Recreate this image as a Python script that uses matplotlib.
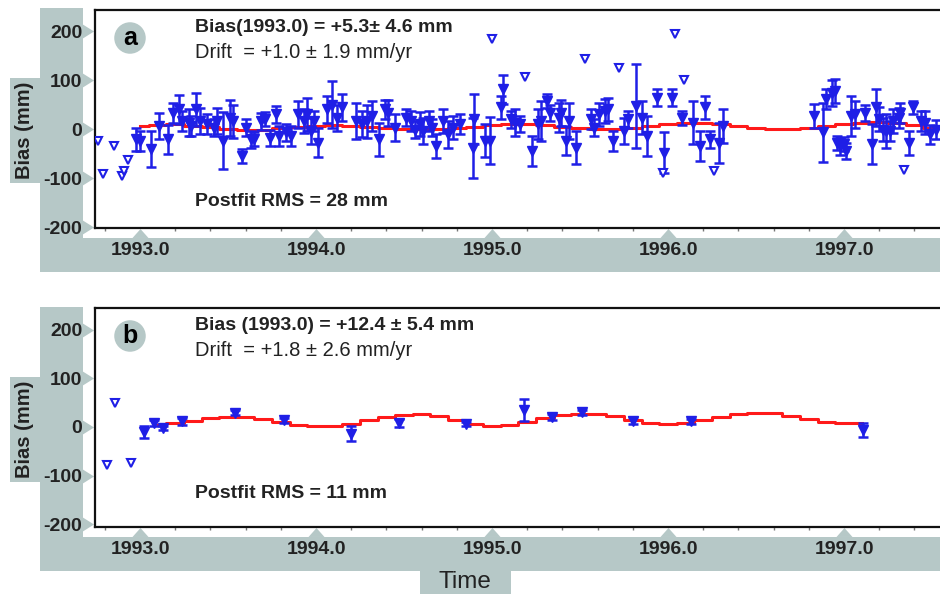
import matplotlib
matplotlib.use("Agg")
import numpy as np
import matplotlib.pyplot as plt
from matplotlib.patches import Rectangle
from matplotlib import transforms

plt.rcParams['font.family'] = ['Liberation Sans', 'DejaVu Sans']

# ---- data, panel a ----
a_year = [1992.98, 1993.00, 1993.06, 1993.11, 1993.16, 1993.19, 1993.22, 1993.24, 1993.28, 1993.29,
          1993.32, 1993.34, 1993.38, 1993.42, 1993.44, 1993.47, 1993.51, 1993.53, 1993.58, 1993.60,
          1993.63, 1993.65, 1993.69, 1993.71, 1993.74, 1993.77, 1993.79, 1993.83, 1993.86, 1993.90,
          1993.93, 1993.95, 1993.97, 1993.99, 1994.01, 1994.06, 1994.09, 1994.12, 1994.15, 1994.23,
          1994.26, 1994.29, 1994.32, 1994.36, 1994.39, 1994.41, 1994.45, 1994.51, 1994.54, 1994.56,
          1994.59, 1994.61, 1994.64, 1994.66, 1994.68, 1994.72, 1994.75, 1994.78, 1994.82, 1994.89,
          1994.90, 1994.96, 1994.99, 1995.05, 1995.06, 1995.11, 1995.13, 1995.16, 1995.23, 1995.26,
          1995.28, 1995.31, 1995.33, 1995.38, 1995.39, 1995.42, 1995.44, 1995.48, 1995.56, 1995.58,
          1995.61, 1995.64, 1995.66, 1995.69, 1995.75, 1995.77, 1995.82, 1995.85, 1995.88, 1995.94,
          1995.98, 1996.02, 1996.08, 1996.14, 1996.18, 1996.21, 1996.24, 1996.29, 1996.31, 1996.83,
          1996.88, 1996.90, 1996.93, 1996.95, 1996.96, 1996.98, 1997.00, 1997.01, 1997.04, 1997.06,
          1997.12, 1997.16, 1997.18, 1997.20, 1997.22, 1997.24, 1997.26, 1997.28, 1997.31, 1997.32,
          1997.37, 1997.39, 1997.44, 1997.46, 1997.49, 1997.52]
a_bias = [-21, -24, -40, 6, -21, 33, 40, 16, 13, 6,
          40, 16, 10, 3, 16, -24, 23, 16, -55, 3,
          -21, -21, 16, 20, -18, 30, -14, -7, -14, 30,
          16, 30, -4, 16, -28, 40, 50, 23, 44, 16,
          10, 16, 27, -21, 40, 33, 3, 23, 16, -1,
          10, -4, 16, 3, -35, 16, -11, 3, 10, -38,
          20, -24, -24, 44, 81, 20, 13, 10, -45, 10,
          16, 57, 33, 23, 33, -24, 16, -38, 20, 3,
          30, 37, 40, -24, -4, 20, 47, 23, -14, 64,
          -48, 64, 23, 13, -35, 44, -21, -28, 6, 27,
          -7, 61, 74, 78, -28, -35, -31, -45, 27, 30,
          33, -31, 44, 20, -1, -4, -4, 16, 23, 33,
          -28, 44, 16, 13, -11, -1]
a_err = [24, 20, 37, 27, 30, 20, 30, 20, 27, 20,
         34, 27, 20, 17, 27, 58, 37, 34, 14, 17,
         17, 14, 17, 14, 17, 17, 20, 17, 20, 27,
         24, 34, 27, 20, 30, 27, 48, 27, 27, 37,
         27, 34, 30, 34, 20, 27, 27, 17, 20, 17,
         24, 27, 20, 17, 24, 24, 27, 24, 20, 61,
         51, 34, 48, 24, 30, 17, 27, 17, 30, 30,
         41, 14, 17, 30, 27, 30, 37, 34, 20, 17,
         24, 24, 24, 20, 27, 17, 85, 34, 41, 17,
         41, 17, 14, 44, 30, 24, 17, 41, 34, 24,
         61, 20, 27, 24, 14, 17, 14, 17, 41, 27,
         17, 41, 37, 24, 24, 34, 20, 24, 20, 20,
         24, 14, 20, 24, 20, 20]
a_out_year = [1992.76, 1992.79, 1992.85, 1992.90, 1992.91, 1992.93, 1995.00, 1995.19,
              1995.53, 1995.72, 1995.97, 1996.04, 1996.09, 1996.26, 1997.34]
a_out_bias = [-24, -92, -35, -96, -86, -63, 183, 106, 142, 124, -90, 195, 100, -86, -84]
a_fit_year = [1993.0, 1993.1, 1993.2, 1993.3, 1993.4, 1993.5, 1993.6, 1993.7, 1993.8, 1993.9,
              1994.0, 1994.1, 1994.2, 1994.3, 1994.4, 1994.5, 1994.6, 1994.7, 1994.8, 1994.9,
              1995.0, 1995.1, 1995.2, 1995.3, 1995.4, 1995.5, 1995.6, 1995.7, 1995.8, 1995.9,
              1996.0, 1996.1, 1996.2, 1996.3, 1996.4, 1996.5, 1996.6, 1996.7, 1996.8, 1996.9,
              1997.0, 1997.1, 1997.2, 1997.3, 1997.4, 1997.5]
a_fit = [6, 9, 10, 7, 4, 0, -2, -1, 2, 5,
         7, 8, 7, 5, 3, 1, 0, 0, 2, 5,
         9, 11, 10, 8, 5, 3, 1, 1, 3, 7,
         11, 13, 13, 10, 6, 3, 1, 0, 2, 6,
         10, 13, 14, 12, 8, 3]

# ---- data, panel b ----
b_year = [1993.02, 1993.08, 1993.13, 1993.24, 1993.54, 1993.82, 1994.20, 1994.47, 1994.85,
          1995.18, 1995.34, 1995.51, 1995.80, 1996.13, 1997.11]
b_bias = [-10, 8, -2, 12, 29, 14, -14, 8, 6, 35, 21, 30, 13, 12, -6]
b_err = [12, 7, 5, 7, 5, 5, 15, 8, 4, 22, 6, 5, 7, 5, 15]
b_out_year = [1992.81, 1992.86, 1992.95]
b_out_bias = [-78, 50, -74]
b_fit_year = [1993.1, 1993.2, 1993.3, 1993.4, 1993.5, 1993.6, 1993.7, 1993.8, 1993.9,
              1994.0, 1994.1, 1994.2, 1994.3, 1994.4, 1994.5, 1994.6, 1994.7, 1994.8, 1994.9,
              1995.0, 1995.1, 1995.2, 1995.3, 1995.4, 1995.5, 1995.6, 1995.7, 1995.8, 1995.9,
              1996.0, 1996.1, 1996.2, 1996.3, 1996.4, 1996.5, 1996.6, 1996.7, 1996.8, 1996.9,
              1997.0, 1997.1]
b_fit = [4, 8, 13, 18, 21, 20, 16, 10, 4,
         1, 2, 7, 14, 21, 25, 26, 22, 15, 7,
         3, 5, 11, 18, 24, 27, 26, 22, 15, 9,
         6, 8, 14, 21, 27, 29, 28, 23, 17, 11,
         8, 8]

year_ticks = [1993, 1994, 1995, 1996, 1997]
year_labels = ['1993.0', '1994.0', '1995.0', '1996.0', '1997.0']
bias_ticks = [-200, -100, 0, 100, 200]

panels = [
    dict(tag='a', year=a_year, bias=a_bias, err=a_err, oy=a_out_year, ob=a_out_bias,
         fy=a_fit_year, fb=a_fit, ylim=(-202, 243), top=10, bot=228,
         lines=['Bias(1993.0) = +5.3\u00b1 4.6 mm', 'Drift  = +1.0 \u00b1 1.9 mm/yr'],
         rms='Postfit RMS = 28 mm', rms_y=0.12),
    dict(tag='b', year=b_year, bias=b_bias, err=b_err, oy=b_out_year, ob=b_out_bias,
         fy=b_fit_year, fb=b_fit, ylim=(-206, 245), top=308, bot=527,
         lines=['Bias (1993.0) = +12.4 \u00b1 5.4 mm', 'Drift  = +1.8 \u00b1 2.6 mm/yr'],
         rms='Postfit RMS = 11 mm', rms_y=0.155),
]

W, H = 940, 594
gray = '#b6c8c7'
blue = '#1f1fe6'
ink = '#222222'

fig = plt.figure(figsize=(W / 100, H / 100), dpi=100)
bg = fig.add_axes([0, 0, 1, 1])
bg.set_xlim(0, W)
bg.set_ylim(H, 0)
bg.axis('off')

# gray frames behind each panel
for p, (col_top, band_top, band_bot, lab_top, lab_bot) in zip(
        panels, [(8, 238, 272, 78, 183), (307, 537, 571, 377, 482)]):
    bg.add_patch(Rectangle((40, col_top), 43, band_bot - col_top, fc=gray, ec='none'))
    bg.add_patch(Rectangle((40, band_top), W - 40, band_bot - band_top, fc=gray, ec='none'))
    bg.add_patch(Rectangle((10, lab_top), 31, lab_bot - lab_top, fc=gray, ec='none'))
    bg.text(25, (lab_top + lab_bot) / 2, 'Bias (mm)', rotation=90, ha='center', va='center',
            fontsize=14.5, fontweight='bold', color=ink)
bg.add_patch(Rectangle((420, 570), 91, 24, fc=gray, ec='none'))
bg.text(465, 593, 'Time', ha='center', va='bottom', fontsize=17.5, color=ink)

# tick triangles as custom markers
tri_up = [(-0.5, -0.28), (0.5, -0.28), (0, 0.28)]
tri_right = [(-0.4, -0.5), (0.4, 0), (-0.4, 0.5)]

left, right = 95, 960
for p in panels:
    ax = fig.add_axes([left / W, (H - p['bot']) / H, (right - left) / W, (p['bot'] - p['top']) / H])
    ax.set_facecolor('white')
    ax.set_xlim(1993 - 45 / 176, 1993 + (right - 140) / 176)
    ax.set_ylim(*p['ylim'])
    for s in ['left', 'top', 'bottom']:
        ax.spines[s].set_linewidth(1.6)
        ax.spines[s].set_color('#111111')
    ax.spines['right'].set_visible(False)

    ax.set_xticks(year_ticks, year_labels)
    ax.set_xticks(np.arange(1992.8, 1997.61, 0.2), minor=True)
    ax.set_yticks(bias_ticks, [str(v) for v in bias_ticks])
    ax.tick_params(axis='x', which='major', length=0, pad=10, labelsize=14)
    ax.tick_params(axis='x', which='minor', length=2.5, width=1, color='#777777', direction='out')
    ax.tick_params(axis='y', which='major', length=0, pad=9, labelsize=14)
    for lab in ax.get_xticklabels() + ax.get_yticklabels():
        lab.set_fontweight('bold')
        lab.set_color(ink)

    ah = p['bot'] - p['top']
    tx = transforms.blended_transform_factory(ax.transData, ax.transAxes)
    ax.plot(year_ticks, [-5 / ah] * len(year_ticks), ls='none', marker=tri_up, ms=11.5,
            color=gray, mec='none', transform=tx, clip_on=False)
    ty = transforms.blended_transform_factory(ax.transAxes, ax.transData)
    ax.plot([-7 / (right - left)] * len(bias_ticks), bias_ticks, ls='none', marker=tri_right,
            ms=10, color=gray, mec='none', transform=ty, clip_on=False)

    ax.plot(p['fy'], p['fb'], color='#ff1a1a', lw=2.2, drawstyle='steps-mid', zorder=2)
    ax.errorbar(p['year'], p['bias'], yerr=p['err'], fmt='v', color=blue, ms=7.5,
                elinewidth=1.8, capsize=3.5, capthick=1.8, zorder=3)
    ax.plot(p['oy'], p['ob'], 'v', mfc='white', mec=blue, mew=1.5, ms=6, zorder=3)

    ax.text(35 / (right - left), 1 - 28 / ah, p['tag'], transform=ax.transAxes, ha='center',
            va='center', fontsize=18, fontweight='bold',
            bbox=dict(boxstyle='circle,pad=0.15', fc=gray, ec='none'))
    ax.text(100 / (right - left), 1 - 18 / ah, p['lines'][0], transform=ax.transAxes,
            va='center', fontsize=14, fontweight='bold', color=ink)
    ax.text(100 / (right - left), 1 - 43 / ah, p['lines'][1], transform=ax.transAxes,
            va='center', fontsize=14.5, color=ink)
    ax.text(100 / (right - left), p['rms_y'], p['rms'], transform=ax.transAxes,
            va='center', fontsize=14, fontweight='bold', color=ink)

fig.savefig('out.png', dpi=100)
